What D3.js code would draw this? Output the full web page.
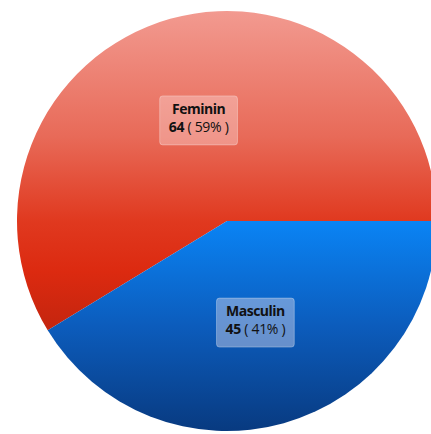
<!DOCTYPE html>
<html><head><meta charset="utf-8">
<script src="https://cdn.jsdelivr.net/npm/d3@7"></script>
<style>body{margin:0;background:#fff;}svg{display:block;}</style>
</head><body>
<svg id="chart" width="431" height="434"></svg>
<script>
const categories = ["Feminin", "Masculin"];
const values = [64, 45];
const percents = ["59%", "41%"];

const svg = d3.select("#chart");
const cx = 227, cy = 221, r = 210;
const defs = svg.append("defs");

const gradStops = [
  [[0, "#f29a90"], [0.3, "#e86a58"], [0.5, "#e0391f"], [0.62, "#dc2a10"], [1, "#9a1c0c"]],
  [[0, "#0a84f5"], [0.5, "#0a84f5"], [0.75, "#0c5cbc"], [1, "#083a80"]]
];
gradStops.forEach((stops, i) => {
  const g = defs.append("linearGradient").attr("id", "g" + i)
    .attr("gradientUnits", "userSpaceOnUse")
    .attr("x1", 0).attr("y1", -r).attr("x2", 0).attr("y2", r);
  stops.forEach(s => g.append("stop").attr("offset", s[0]).attr("stop-color", s[1]));
});

const total = d3.sum(values);
const pie = d3.pie().sort(null)
  .startAngle(Math.PI / 2 + 2 * Math.PI * values[1] / total - 2 * Math.PI)
  .endAngle(Math.PI / 2 + 2 * Math.PI * values[1] / total);
const arcs = pie(values);
const arc = d3.arc().innerRadius(0).outerRadius(r);
const labelArc = d3.arc().innerRadius(r * 0.5).outerRadius(r * 0.5);

const g = svg.append("g").attr("transform", `translate(${cx},${cy})`);
g.selectAll("path").data(arcs).join("path")
  .attr("d", arc)
  .attr("fill", (d, i) => `url(#g${i})`);

arcs.forEach((d, i) => {
  const [x, y] = labelArc.centroid(d);
  const lg = svg.append("g").attr("transform", `translate(${cx + x},${cy + y})`);
  const rect = lg.append("rect");
  const t1 = lg.append("text").attr("text-anchor", "middle").attr("y", -6)
    .attr("font-family", "'Open Sans', sans-serif").attr("font-size", 14)
    .attr("font-weight", "bold").attr("letter-spacing", -0.5).attr("fill", "#111")
    .text(categories[i]);
  const t2 = lg.append("text").attr("text-anchor", "middle").attr("y", 12)
    .attr("font-family", "'Open Sans', sans-serif").attr("font-size", 14)
    .attr("letter-spacing", -0.3).attr("fill", "#111");
  t2.append("tspan").attr("font-weight", "bold").text(values[i]);
  t2.append("tspan").text(" ( " + percents[i] + " )");
  const w = Math.max(t1.node().getComputedTextLength(), t2.node().getComputedTextLength()) + 18;
  rect.attr("x", -w / 2).attr("y", -24).attr("width", w).attr("height", 49)
    .attr("rx", 3).attr("fill", i === 0 ? "rgba(255,235,235,0.35)" : "rgba(215,215,235,0.45)")
    .attr("stroke", "rgba(255,255,255,0.3)");
});
</script>
</body></html>
